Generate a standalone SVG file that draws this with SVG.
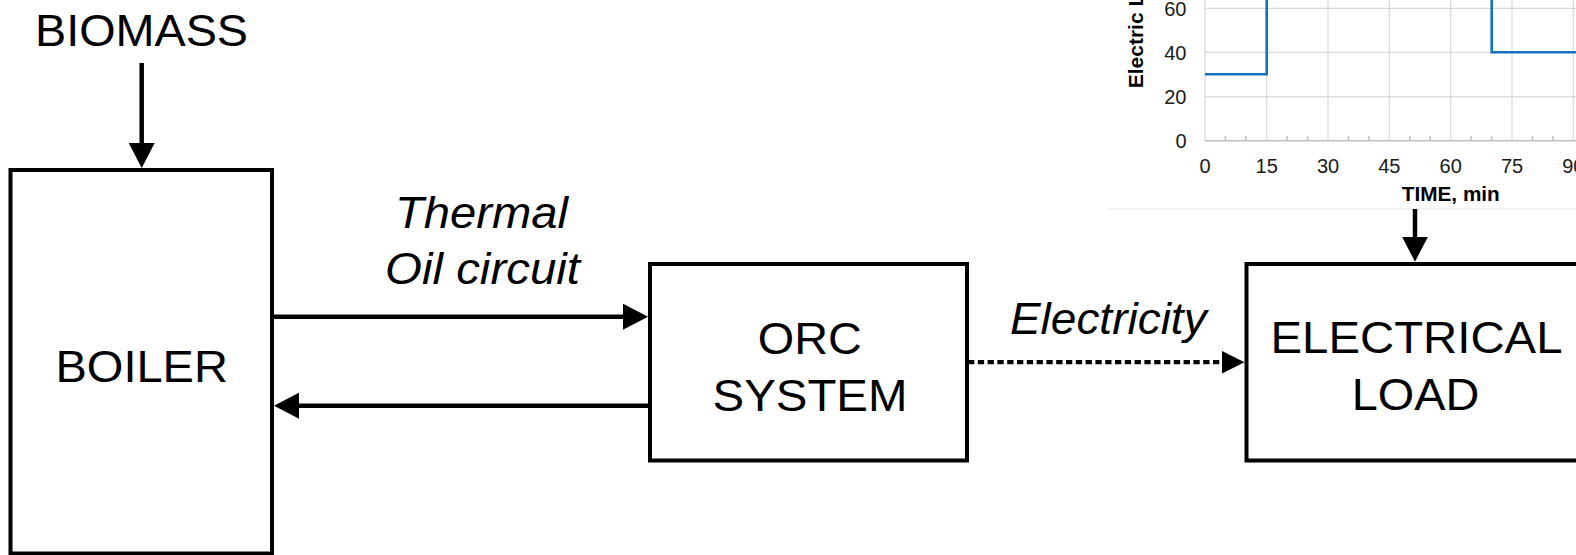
<svg xmlns="http://www.w3.org/2000/svg" width="1576" height="555" viewBox="0 0 1576 555">
<defs>
<style>
.box{fill:#fff;stroke:#000;stroke-width:4}
.lbl{font-family:"Liberation Sans",Arial,sans-serif;font-size:44.5px;fill:#000;text-anchor:middle}
.it{font-style:italic}
.conn{stroke:#000;stroke-width:4.5;fill:none}
.dot{stroke-dasharray:6.3 3.5;stroke-width:4.2}
.grid{stroke:#d9d9d9;stroke-width:1.2;fill:none}
.axis{stroke:#bfbfbf;stroke-width:1.5;fill:none}
.tick{font-family:"Liberation Sans",Arial,sans-serif;font-size:20px;fill:#1a1a1a}
.ttl{font-family:"Liberation Sans",Arial,sans-serif;font-size:20px;font-weight:bold;fill:#000}
.series{stroke:#1570c0;stroke-width:2.6;fill:none}
</style>
<marker id="ah" markerUnits="userSpaceOnUse" markerWidth="26" markerHeight="26" refX="1" refY="13" orient="auto" viewBox="0 0 26 26">
<path d="M0,0 L25,13 L0,26 z" fill="#000"/>
</marker>
<marker id="ahs" markerUnits="userSpaceOnUse" markerWidth="24" markerHeight="24" refX="1" refY="11.5" orient="auto" viewBox="0 0 24 24">
<path d="M0,0 L23,11.5 L0,23 z" fill="#000"/>
</marker>
</defs>
<rect width="1576" height="555" fill="#fff"/>

<g id="load-profile-chart">
<path class="grid" d="M1205,8.3H1576M1205,52.3H1576M1205,96.7H1576"/>
<path class="grid" d="M1266.7,0V141M1328,0V141M1389.3,0V141M1450.7,0V141M1512,0V141M1573.3,0V141"/>
<path class="grid" d="M1205,0V141"/>
<path class="axis" d="M1205,140.8H1576"/>
<path class="axis" d="M1225.4,136V141M1245.9,136V141M1287.1,136V141M1307.6,136V141M1348.4,136V141M1368.9,136V141M1409.8,136V141M1430.2,136V141M1471.1,136V141M1491.6,136V141M1532.4,136V141M1552.9,136V141"/>
<g class="tick" text-anchor="end">
<text x="1186.5" y="15.5">60</text>
<text x="1186.5" y="59.5">40</text>
<text x="1186.5" y="104">20</text>
<text x="1186.5" y="147.5">0</text>
</g>
<g class="tick" text-anchor="middle">
<text x="1205" y="172.7">0</text>
<text x="1266.7" y="172.7">15</text>
<text x="1328" y="172.7">30</text>
<text x="1389.3" y="172.7">45</text>
<text x="1450.7" y="172.7">60</text>
<text x="1512" y="172.7">75</text>
<text x="1573.3" y="172.7">90</text>
</g>
<text class="ttl" x="1450.8" y="200.7" text-anchor="middle" textLength="98" lengthAdjust="spacingAndGlyphs">TIME, min</text>
<text class="ttl" style="font-size:21px" transform="translate(1143.3,88.3) rotate(-90)">Electric L</text>
<path class="series" d="M1205,74.3H1266.7V-5M1491.7,-5V52.3H1580"/>
<path d="M1107,209H1576" stroke="#e6e6e6" stroke-width="1.2"/>
</g>

<g id="biomass">
<text class="lbl" x="141.5" y="46" textLength="213" lengthAdjust="spacingAndGlyphs">BIOMASS</text>
</g>

<g id="boiler">
<rect class="box" x="10.5" y="170" width="261.5" height="383.5"/>
<text class="lbl" x="141.7" y="381.5" textLength="172.5" lengthAdjust="spacingAndGlyphs">BOILER</text>
</g>

<g id="orc-system">
<rect class="box" x="650" y="264" width="317" height="196.5"/>
<text class="lbl" x="809.8" y="353.5" textLength="104" lengthAdjust="spacingAndGlyphs">ORC</text>
<text class="lbl" x="810" y="410.5" textLength="195" lengthAdjust="spacingAndGlyphs">SYSTEM</text>
</g>

<g id="electrical-load">
<rect class="box" x="1246.5" y="264" width="340" height="196.5"/>
<text class="lbl" x="1416.5" y="353" textLength="292" lengthAdjust="spacingAndGlyphs">ELECTRICAL</text>
<text class="lbl" x="1415.5" y="409.5" textLength="127.5" lengthAdjust="spacingAndGlyphs">LOAD</text>
</g>

<g id="connectors">
<path class="conn" d="M141.7,63V144" marker-end="url(#ah)"/>
<path class="conn" d="M272,316.7H624" marker-end="url(#ah)"/>
<path class="conn" d="M650,405.7H298" marker-end="url(#ah)"/>
<path class="conn dot" d="M968,362.2H1222.5" marker-end="url(#ahs)"/>
<path class="conn" d="M1415,209V237.7" marker-end="url(#ah)"/>
<text class="lbl it" x="481.5" y="228" textLength="173" lengthAdjust="spacingAndGlyphs">Thermal</text>
<text class="lbl it" x="482.5" y="284.4" textLength="195" lengthAdjust="spacingAndGlyphs">Oil circuit</text>
<text class="lbl it" x="1108.3" y="334.3" textLength="196.7" lengthAdjust="spacingAndGlyphs">Electricity</text>
</g>
</svg>
